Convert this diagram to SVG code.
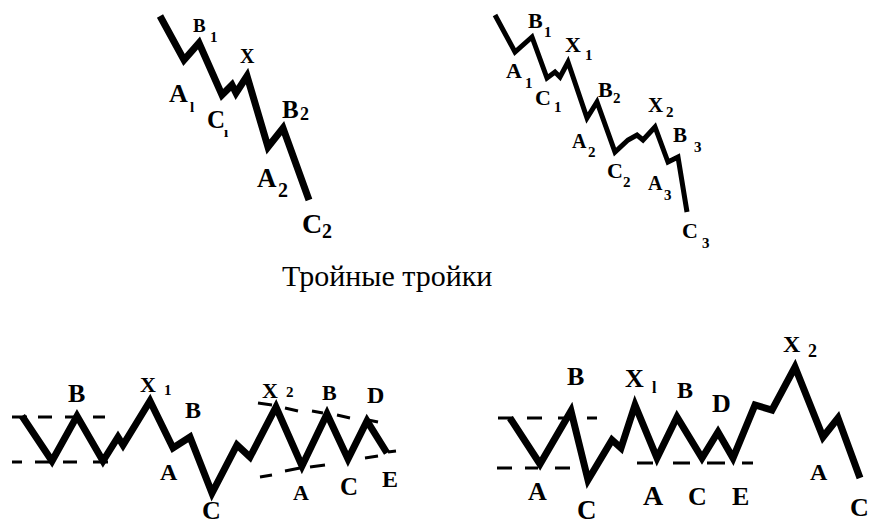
<svg xmlns="http://www.w3.org/2000/svg" width="872" height="524" viewBox="0 0 872 524">
<style>
.w{fill:none;stroke:#000;stroke-linejoin:miter;stroke-linecap:butt}
.t{stroke-width:7}
.s{stroke-width:5}
.d{fill:none;stroke:#000;stroke-width:3}
text{font-family:"Liberation Serif","DejaVu Serif","Times New Roman",serif;font-weight:bold;fill:#000}
.cap{font-weight:normal;font-size:30px}
</style>
<rect width="872" height="524" fill="#fff"/>
<g id="connectors">
<polyline id="wave1" class="w t" points="160,16 184,60 199,43 222,95 232,85 236,93 247,76 268,147 283,128 309,200"/>
<polyline id="wave2" class="w s" points="495,15 515,52 532,37 547,78 555,72 560,77 568,62 587,118 597,102 615,152 628,140 637,135 643,140 655,127 668,162 678,157 687,212"/>
<polyline id="wave3" class="w t" points="22,416 52,461 77,416 103,461 118,437 123,445 150,401 173,448 190,437 212,493 237,445 250,457 276,407 302,466 327,414 348,459 367,421 387,453"/>
<polyline id="wave4" class="w t" points="510,418 540,464 571,411 588,480 612,440 621,448 635,405 657,458 677,417 702,458 718,432 733,458 755,405 772,410 795,367 823,437 838,418 860,478"/>
<g id="dashes3">
<path class="d" d="M12,417H27M38,417H52M65,417H80M93,417H105M12,462H22M35,462H50M63,462H77M93,462H108"/>
<path class="d" d="M258,403L272,405M285,408L298,411M312,411L323,413M337,415L350,418M368,420L378,422"/>
<path class="d" d="M260,477L272,475M285,471L300,468M310,467L325,465M365,458L378,456M388,452L396,451"/>
</g>
<g id="dashes4">
<path class="d" d="M498,418H513M527,418H542M558,418H567M587,418H597M497,468H512M525,468H538M555,468H570M637,463H653M673,463H690M707,463H725M742,463H753"/>
</g>
</g>
<g id="labels1">
<text x="193" y="32" font-size="19">B</text><text x="210" y="42" font-size="15">1</text>
<text x="240" y="63" font-size="20">X</text>
<text x="169" y="102" font-size="26">A</text><text x="190" y="112" font-size="15">l</text>
<text x="207" y="128" font-size="25">C</text><text x="224" y="137" font-size="15">ı</text>
<text x="282" y="118" font-size="25">B</text><text x="300" y="120" font-size="18">2</text>
<text x="257" y="187" font-size="27">A</text><text x="278" y="197" font-size="20">2</text>
<text x="302" y="233" font-size="28">C</text><text x="322" y="238" font-size="20">2</text>
</g>
<g id="labels2">
<text x="528" y="28" font-size="22">B</text><text x="544" y="37" font-size="15">1</text>
<text x="565" y="52" font-size="22">X</text><text x="585" y="60" font-size="15">1</text>
<text x="506" y="78" font-size="22">A</text><text x="525" y="88" font-size="15">1</text>
<text x="535" y="105" font-size="22">C</text><text x="554" y="112" font-size="15">1</text>
<text x="598" y="97" font-size="22">B</text><text x="613" y="103" font-size="15">2</text>
<text x="572" y="148" font-size="20">A</text><text x="588" y="157" font-size="15">2</text>
<text x="607" y="178" font-size="22">C</text><text x="623" y="187" font-size="15">2</text>
<text x="648" y="112" font-size="21">X</text><text x="666" y="117" font-size="15">2</text>
<text x="673" y="142" font-size="21">B</text><text x="694" y="152" font-size="15">3</text>
<text x="648" y="190" font-size="20">A</text><text x="664" y="200" font-size="15">3</text>
<text x="682" y="238" font-size="22">C</text><text x="702" y="248" font-size="15">3</text>
</g>
<g id="caption"><text class="cap" x="282" y="286">Тройные тройки</text></g>
<g id="labels3">
<text x="68" y="402" font-size="26">B</text>
<text x="140" y="392" font-size="22">X</text><text x="164" y="395" font-size="15">1</text>
<text x="185" y="418" font-size="24">B</text>
<text x="160" y="480" font-size="24">A</text>
<text x="202" y="519" font-size="26">C</text>
<text x="262" y="398" font-size="22">X</text><text x="286" y="397" font-size="15">2</text>
<text x="322" y="400" font-size="22">B</text>
<text x="367" y="403" font-size="24">D</text>
<text x="293" y="500" font-size="22">A</text>
<text x="340" y="495" font-size="25">C</text>
<text x="382" y="487" font-size="24">E</text>
</g>
<g id="labels4">
<text x="567" y="385" font-size="26">B</text>
<text x="625" y="387" font-size="26">X</text><text x="652" y="393" font-size="16">l</text>
<text x="677" y="398" font-size="24">B</text>
<text x="712" y="412" font-size="26">D</text>
<text x="783" y="352" font-size="24">X</text><text x="808" y="357" font-size="18">2</text>
<text x="528" y="500" font-size="26">A</text>
<text x="577" y="519" font-size="27">C</text>
<text x="643" y="505" font-size="28">A</text>
<text x="688" y="505" font-size="26">C</text>
<text x="732" y="505" font-size="26">E</text>
<text x="810" y="480" font-size="24">A</text>
<text x="850" y="516" font-size="26">C</text>
</g>
</svg>
